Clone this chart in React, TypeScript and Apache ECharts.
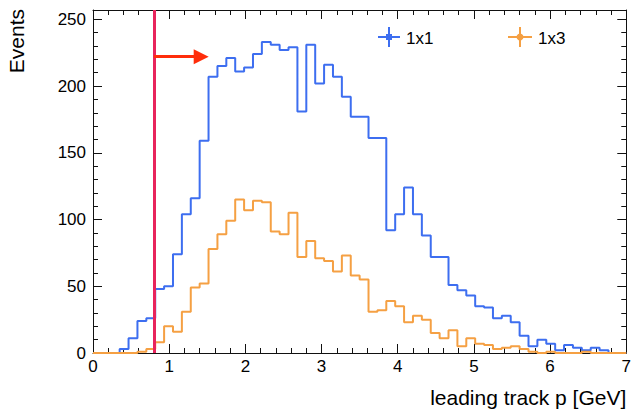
import React, { useEffect, useRef } from "react";
import * as echarts from "echarts";

// ---- data ----
const xMin = 0;
const xMax = 7;
const nBins = 60;
const xTickLabels = ["0", "1", "2", "3", "4", "5", "6", "7"];
const yTickLabels = ["0", "50", "100", "150", "200", "250"];

const counts1x1 = [
  0, 0, 0, 3, 11, 24, 26, 48, 50, 74,
  104, 116, 159, 207, 215, 221, 211, 214, 224, 233,
  231, 227, 229, 181, 231, 202, 216, 207, 192, 177,
  177, 161, 161, 92, 104, 124, 104, 88, 72, 72,
  51, 47, 43, 35, 34, 26, 28, 23, 13, 5,
  10, 7, 2, 6, 4, 2, 4, 2, 0, 0,
];
const counts1x3 = [
  0, 0, 0, 0, 0, 1, 3, 8, 20, 16,
  31, 49, 52, 78, 89, 99, 115, 107, 114, 113,
  91, 89, 105, 72, 84, 71, 69, 61, 73, 58,
  55, 31, 32, 39, 35, 23, 28, 25, 15, 11,
  17, 5, 11, 7, 6, 3, 4, 5, 3, 1,
  0, 1, 0, 0, 0, 1, 0, 0, 0, 0,
];

const cutValue = 0.8;
const arrowY = 222;
const arrowEnd = 1.42;
const yMax = 257;

// ---- styling ----
const FONT = "Liberation Sans";
const BLUE = "#3d6ef0";
const ORANGE = "#f5a043";
const CUT = "#e8245c";
const ARROW = "#ff2d0a";
const FRAME = "#111";

const binEdges = Array.from({ length: nBins + 1 }, (_, i) => xMin + (i * (xMax - xMin)) / nBins);
function stepData(values: number[]) {
  const pts = values.map((v, i) => [binEdges[i], v]);
  pts.push([binEdges[nBins], values[nBins - 1]]);
  return pts;
}

export default function App() {
  const ref = useRef<HTMLDivElement>(null);
  useEffect(() => {
    if (!ref.current) return;
    const chart = echarts.init(ref.current, undefined, { renderer: "svg" });
    const xBase = (pos: "bottom" | "top", labels: boolean) => ({
      type: "value",
      min: xMin,
      max: xMax,
      interval: 1,
      position: pos,
      axisLine: { show: true, onZero: false, lineStyle: { color: FRAME, width: 1 } },
      axisTick: { show: true, inside: true, length: 9, lineStyle: { color: FRAME } },
      minorTick: { show: true, splitNumber: 5, length: 5, lineStyle: { color: FRAME } },
      splitLine: { show: false },
      minorSplitLine: { show: false },
      axisLabel: {
        show: labels,
        color: "#000",
        fontFamily: FONT,
        fontSize: 17,
        margin: 5,
        formatter: (v: number) => xTickLabels[Math.round(v)] ?? "",
      },
    });
    const yBase = (pos: "left" | "right", interval: number, len: number, labels: boolean, line: boolean) => ({
      type: "value",
      min: 0,
      max: yMax,
      interval,
      position: pos,
      axisLine: { show: line, onZero: false, lineStyle: { color: FRAME, width: 1 } },
      axisTick: { show: true, inside: true, length: len, lineStyle: { color: FRAME } },
      splitLine: { show: false },
      axisLabel: {
        show: labels,
        showMaxLabel: false,
        color: "#000",
        fontFamily: FONT,
        fontSize: 17,
        margin: 7,
        formatter: (v: number) => yTickLabels[Math.round(v / 50)] ?? "",
      },
    });
    const option: any = {
      animation: false,
      grid: { left: 93, right: 3, top: 10, bottom: 59, containLabel: false },
      xAxis: [
        {
          ...xBase("bottom", true),
          name: "leading track p [GeV]",
          nameLocation: "end",
          nameGap: 0,
          nameTextStyle: {
            fontFamily: FONT,
            fontSize: 21,
            color: "#000",
            align: "right",
            verticalAlign: "top",
            padding: [34, 0, 0, 0],
          },
        },
        xBase("top", false),
      ],
      yAxis: [
        yBase("left", 50, 9, true, true),
        yBase("left", 10, 5, false, false),
        yBase("right", 50, 9, false, true),
        yBase("right", 10, 5, false, false),
      ],
      series: [
        {
          type: "line",
          name: "1x1",
          data: stepData(counts1x1),
          step: "end",
          symbol: "none",
          lineStyle: { color: BLUE, width: 2 },
          itemStyle: { color: BLUE },
          xAxisIndex: 0,
          yAxisIndex: 0,
          z: 2,
          silent: true,
        },
        {
          type: "line",
          name: "1x3",
          data: stepData(counts1x3),
          step: "end",
          symbol: "none",
          lineStyle: { color: ORANGE, width: 2 },
          itemStyle: { color: ORANGE },
          xAxisIndex: 0,
          yAxisIndex: 0,
          z: 3,
          silent: true,
        },
        {
          type: "line",
          name: "cut",
          data: [],
          xAxisIndex: 0,
          yAxisIndex: 0,
          z: 4,
          markLine: {
            silent: true,
            animation: false,
            symbol: ["none", "none"],
            label: { show: false },
            lineStyle: { color: CUT, width: 3, type: "solid" },
            data: [{ xAxis: cutValue }],
          },
        },
        {
          type: "line",
          name: "arrow",
          data: [],
          xAxisIndex: 0,
          yAxisIndex: 0,
          z: 5,
          markLine: {
            silent: true,
            animation: false,
            symbol: ["none", "triangle"],
            symbolSize: 15,
            label: { show: false },
            lineStyle: { color: ARROW, width: 3, type: "solid" },
            itemStyle: { color: ARROW },
            data: [[{ coord: [cutValue, arrowY] }, { coord: [arrowEnd, arrowY] }]],
          },
        },
      ],
      graphic: [
        {
          type: "text",
          x: 16,
          y: 9,
          rotation: Math.PI / 2,
          style: {
            text: "Events",
            fontFamily: FONT,
            fontSize: 21,
            fill: "#000",
            align: "right",
            textAlign: "right",
            verticalAlign: "middle",
            textVerticalAlign: "middle",
          },
        },
        // legend 1x1
        { type: "line", shape: { x1: 378, y1: 37, x2: 400, y2: 37 }, style: { stroke: BLUE, lineWidth: 2 } },
        { type: "line", shape: { x1: 389, y1: 27, x2: 389, y2: 47 }, style: { stroke: BLUE, lineWidth: 2 } },
        { type: "rect", shape: { x: 386, y: 34, width: 6, height: 6 }, style: { fill: BLUE } },
        {
          type: "text",
          x: 406,
          y: 38,
          style: {
            text: "1x1",
            fontFamily: FONT,
            fontSize: 17,
            fill: "#000",
            verticalAlign: "middle",
            textVerticalAlign: "middle",
          },
        },
        // legend 1x3
        { type: "line", shape: { x1: 508, y1: 37, x2: 532, y2: 37 }, style: { stroke: ORANGE, lineWidth: 2 } },
        { type: "line", shape: { x1: 520, y1: 27, x2: 520, y2: 47 }, style: { stroke: ORANGE, lineWidth: 2 } },
        { type: "circle", shape: { cx: 520, cy: 37, r: 3.5 }, style: { fill: ORANGE } },
        {
          type: "text",
          x: 538,
          y: 38,
          style: {
            text: "1x3",
            fontFamily: FONT,
            fontSize: 17,
            fill: "#000",
            verticalAlign: "middle",
            textVerticalAlign: "middle",
          },
        },
      ],
    };
    chart.setOption(option);
    return () => chart.dispose();
  }, []);
  return (
    <div
      ref={ref}
      style={{ position: "fixed", left: 0, top: 0, width: 634, height: 412, background: "#fff" }}
    />
  );
}
